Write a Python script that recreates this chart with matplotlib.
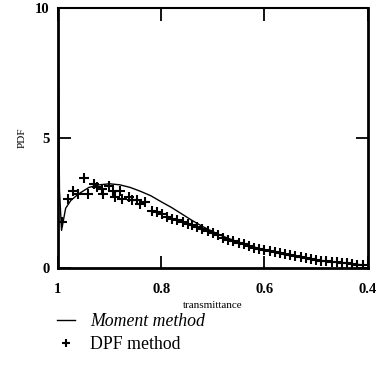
import matplotlib
matplotlib.use('Agg')
import matplotlib.pyplot as plt

plt.rcParams['font.family'] = 'Liberation Serif'

# Moment method curve
t_moment = [1.0, 0.997, 0.993, 0.985, 0.975, 0.96, 0.94, 0.92, 0.90, 0.88, 0.86,
            0.84, 0.82, 0.80, 0.78, 0.76, 0.74, 0.72, 0.70, 0.68, 0.66, 0.64,
            0.62, 0.60, 0.58, 0.56, 0.54, 0.52, 0.50, 0.48, 0.46, 0.44, 0.42, 0.40]
pdf_moment = [10.0, 3.0, 1.45, 2.3, 2.6, 2.85, 3.1, 3.2, 3.24, 3.2, 3.1,
              2.95, 2.78, 2.55, 2.33, 2.08, 1.83, 1.6, 1.4, 1.22, 1.07, 0.93,
              0.81, 0.7, 0.6, 0.51, 0.44, 0.37, 0.31, 0.26, 0.22, 0.18, 0.14, 0.11]

# DPF method points
t_dpf = [0.993, 0.981, 0.970, 0.962, 0.949, 0.941, 0.931, 0.925, 0.915, 0.912,
         0.902, 0.893, 0.889, 0.880, 0.876, 0.863, 0.857, 0.847, 0.841, 0.831,
         0.818, 0.808, 0.799, 0.789, 0.779, 0.769, 0.757, 0.748, 0.740, 0.730,
         0.720, 0.710, 0.700, 0.690, 0.680, 0.670, 0.660, 0.650, 0.640, 0.630,
         0.620, 0.610, 0.600, 0.590, 0.580, 0.570, 0.560, 0.550, 0.540, 0.530,
         0.520, 0.510, 0.500, 0.490, 0.480, 0.470, 0.460, 0.450, 0.440, 0.430,
         0.420, 0.410]
pdf_dpf = [1.77, 2.66, 2.98, 2.85, 3.48, 2.85, 3.23, 3.10, 3.04, 2.85,
           3.17, 2.98, 2.72, 2.98, 2.66, 2.72, 2.60, 2.60, 2.47, 2.53,
           2.21, 2.15, 2.08, 1.95, 1.89, 1.83, 1.77, 1.70, 1.64, 1.57,
           1.51, 1.43, 1.35, 1.26, 1.15, 1.07, 1.03, 0.98, 0.91, 0.86,
           0.78, 0.73, 0.69, 0.66, 0.62, 0.58, 0.54, 0.50, 0.46, 0.43,
           0.39, 0.35, 0.31, 0.29, 0.27, 0.24, 0.22, 0.20, 0.18, 0.16,
           0.13, 0.11]

fig = plt.figure(figsize=(3.81, 3.76), dpi=100)
ax = fig.add_axes([0.152, 0.287, 0.813, 0.692])

ax.plot(t_moment, pdf_moment, color='black', lw=1.0, label='Moment method')
ax.plot(t_dpf, pdf_dpf, ls='none', marker='+', ms=7, mew=1.5, color='black',
        label='DPF method')

ax.set_xlim(1.0, 0.4)
ax.set_ylim(0, 10)
ax.set_xticks([1.0, 0.8, 0.6, 0.4])
ax.set_xticklabels(['1', '0.8', '0.6', '0.4'], fontweight='bold', fontsize=10.5)
ax.set_yticks([0, 5, 10])
ax.set_yticklabels(['0', '5', '10'], fontweight='bold', fontsize=10.5)
ax.tick_params(direction='in', length=9, width=1.3, top=True, right=True)
ax.tick_params(axis='x', pad=11)
ax.tick_params(axis='y', pad=6)
for s in ax.spines.values():
    s.set_linewidth(2.0)
ax.spines['top'].set_linewidth(1.5)

ax.set_xlabel('transmittance', fontsize=8, labelpad=3)
ax.set_ylabel('PDF', fontsize=8, labelpad=6)

leg = fig.legend(loc='upper left', bbox_to_anchor=(0.125, 0.19), frameon=False,
                 fontsize=12.8, handlelength=1.05, handletextpad=0.85,
                 labelspacing=0.3, borderpad=0, markerscale=0.8)
leg.get_texts()[0].set_style('italic')

fig.savefig('out.png', dpi=100)
